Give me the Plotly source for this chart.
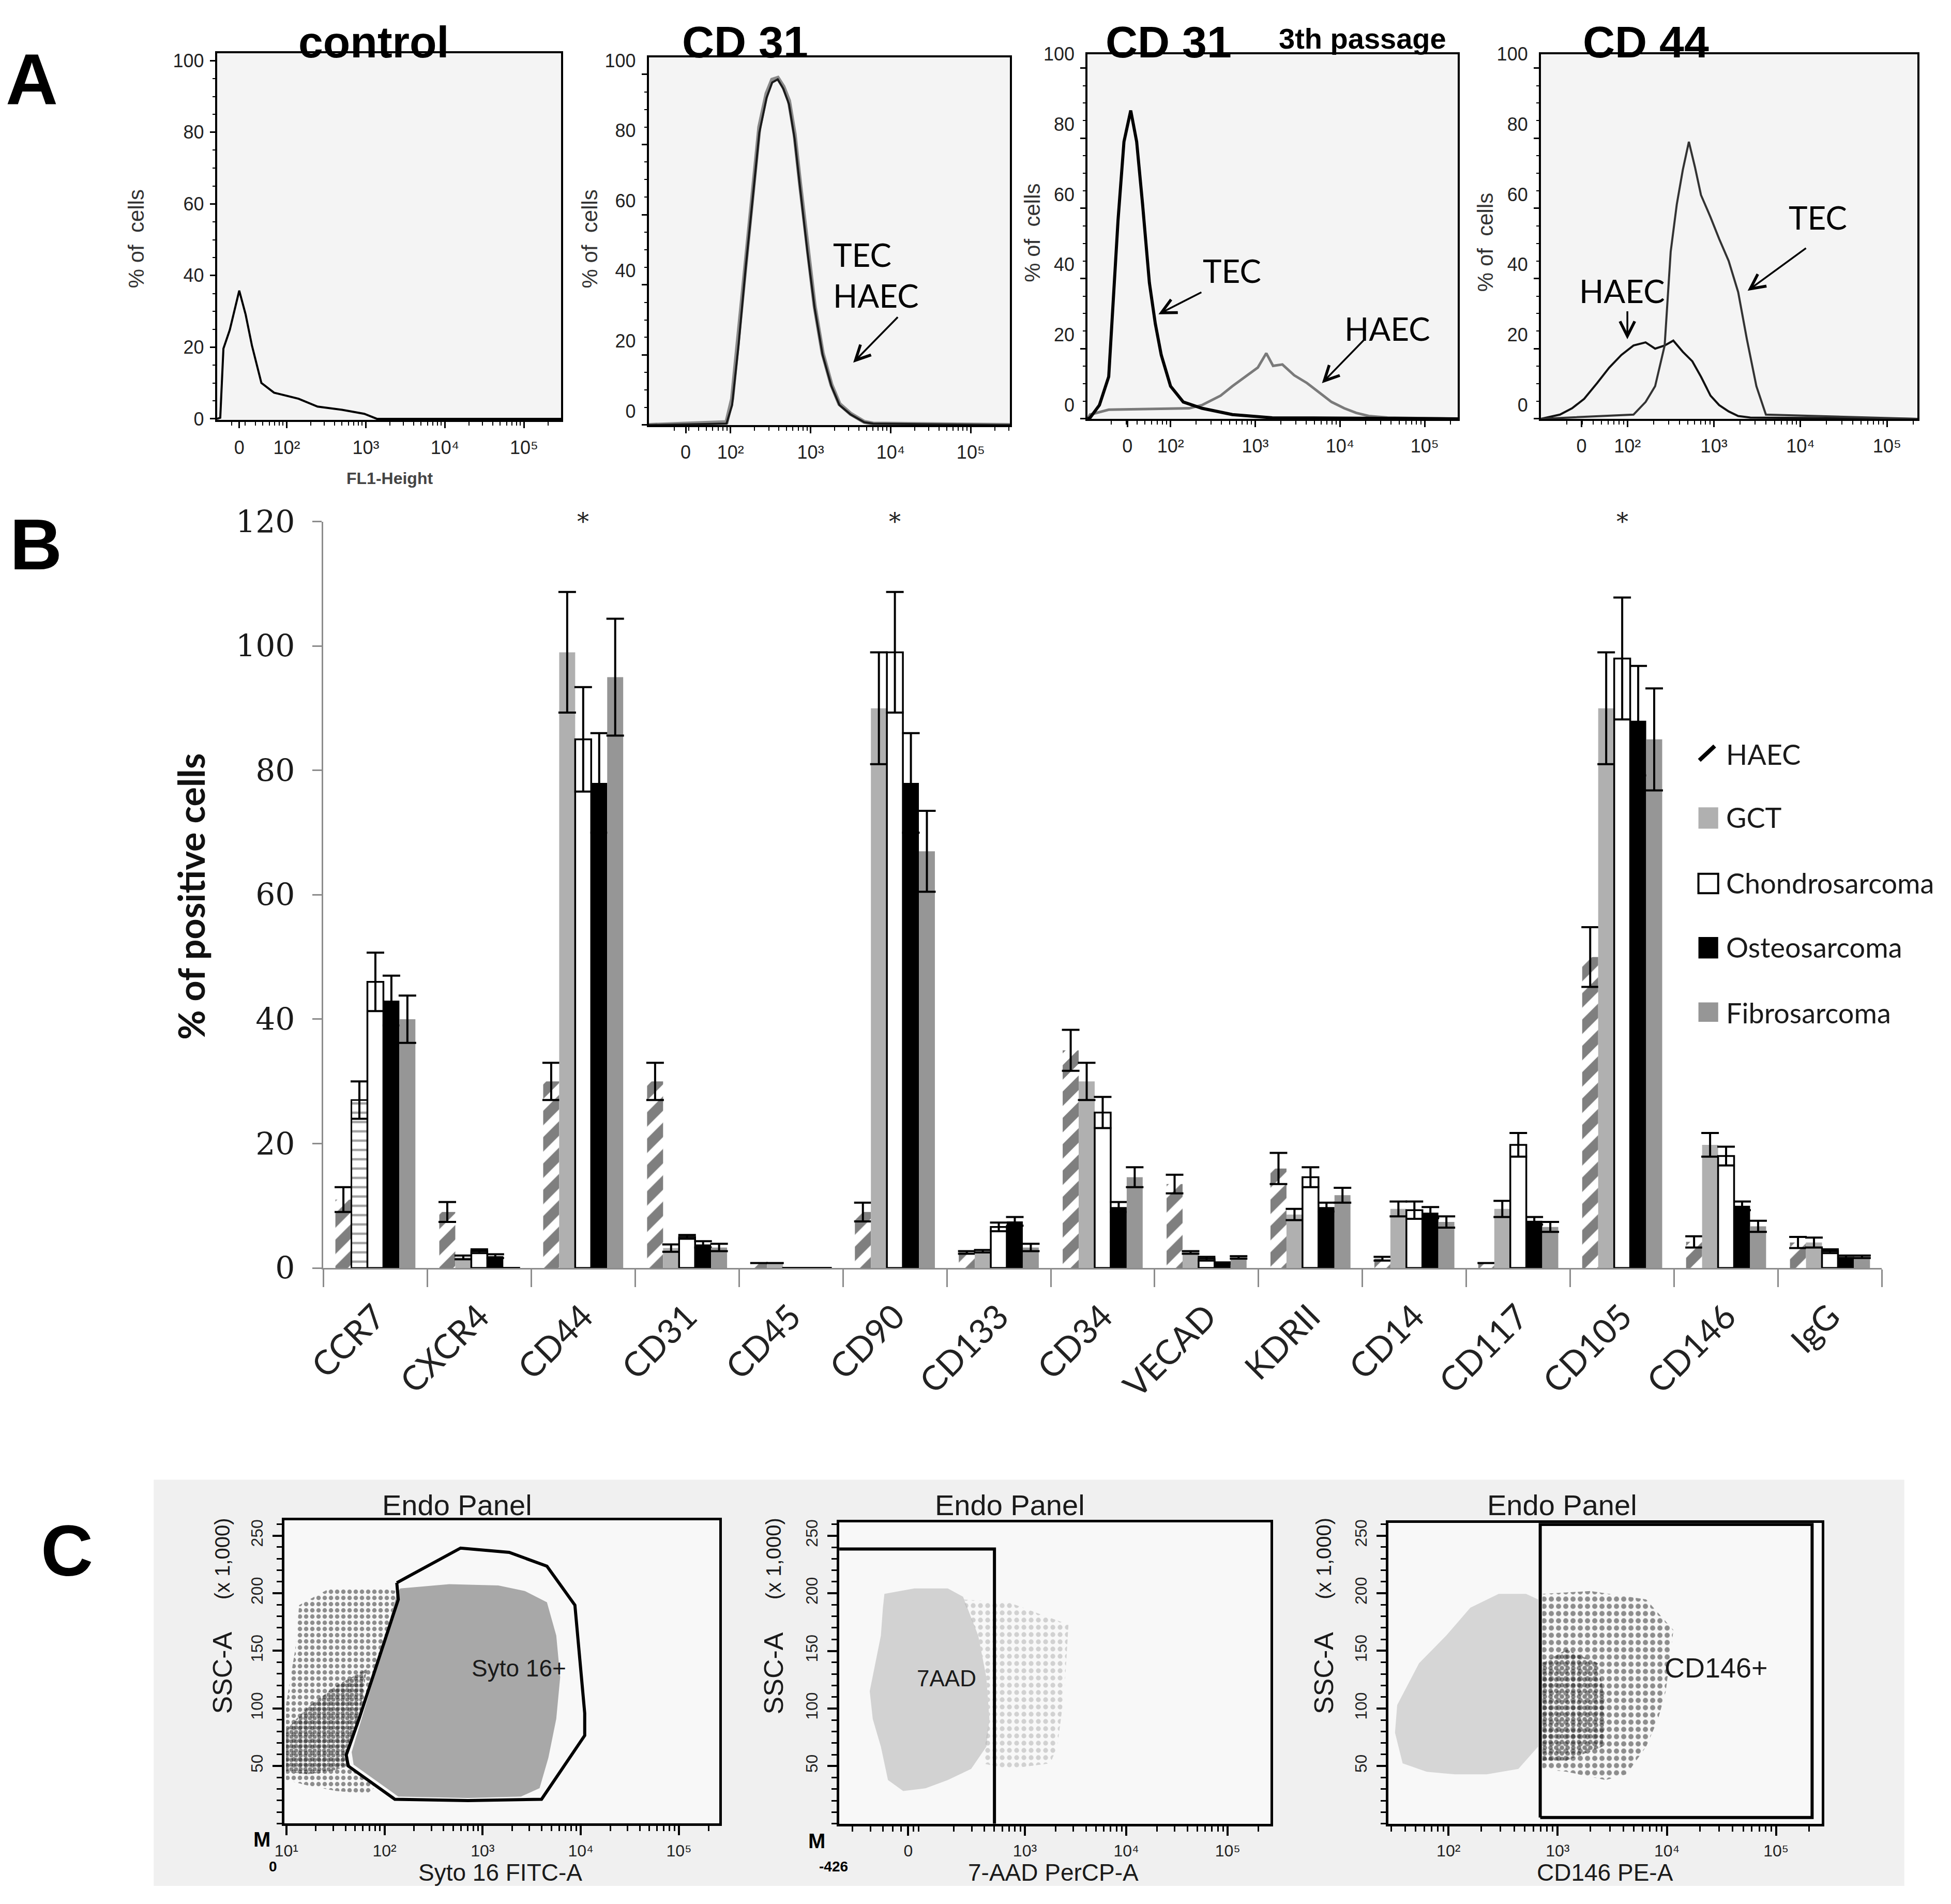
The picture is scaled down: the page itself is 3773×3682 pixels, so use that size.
import math
import plotly.graph_objects as go

W, H = 3773, 3682
MW, MH = 1568.2, 1530.3
# the page is photographed slightly inset and scaled; positions below are given in
# reference-picture pixels (1568 x 1530 view) and mapped through this correction
OX, OY, KX, KY = 12.5, 13.8, 0.991, 0.9814
S = W / MW


def fx(X):
    return ((X - OX) / KX) / MW


def fy(Y, raw=False):
    if raw:
        return 1 - Y / MH
    return 1 - ((Y - OY) / KY) / MH


def sfx(n):
    return "" if n == 1 else str(n)


ARIAL = "Liberation Sans, Arial, sans-serif"
NARROW = "Liberation Sans Narrow, Arial Narrow, Liberation Sans, sans-serif"
CAL = "Lato, Carlito, Calibri, sans-serif"
SERIF = "DejaVu Serif, serif"

# ---------------- Panel A : histograms (x in logicle decades, y in % of cells)
ctrl_u = [1.12, 1.16, 1.20, 1.28, 1.40, 1.48, 1.56, 1.68, 1.84, 2.15, 2.39, 2.70, 2.98, 3.14, 5.47]
ctrl_v = [0, 0.3, 19.6, 24.8, 35.8, 29.2, 20.5, 10.0, 7.3, 5.6, 3.4, 2.5, 1.4, 0, 0]

cd31_u = [0.98, 1.95, 2.02, 2.10, 2.19, 2.28, 2.36, 2.45, 2.52, 2.59, 2.66, 2.73, 2.80, 2.87,
          2.96, 3.05, 3.15, 3.26, 3.36, 3.50, 3.67, 3.78, 5.49]
cd31_tec = [0, 0.4, 5.7, 22.7, 45.0, 65.6, 83.4, 93.3, 97.7, 98.6, 95.9, 91.5, 81.7, 67.4,
            49.5, 33.4, 20.0, 11.1, 5.7, 3.0, 0.8, 0.4, 0]
cd31_haec = [0, 0.8, 7.5, 25.5, 48.0, 68.0, 85.0, 94.5, 98.5, 99.0, 96.5, 92.5, 83.0, 68.5,
             50.5, 34.0, 20.5, 11.5, 6.0, 3.2, 0.9, 0.4, 0]

p3_tec_u = [1.02, 1.05, 1.16, 1.27, 1.38, 1.45, 1.53, 1.60, 1.67, 1.75, 1.82, 1.89, 2.00, 2.15,
            2.37, 2.73, 3.20, 5.39]
p3_tec = [0, 0.3, 3.9, 12.0, 56.6, 79.0, 87.9, 79.0, 61.1, 38.8, 27.1, 18.2, 9.3, 4.8,
          3.0, 1.2, 0.3, 0]
p3_haec_u = [1.02, 1.05, 1.27, 2.00, 2.22, 2.37, 2.59, 2.73, 2.88, 3.03, 3.13, 3.21, 3.32, 3.46,
             3.61, 3.75, 3.90, 4.05, 4.19, 4.34, 4.56, 5.39]
p3_haec = [0, 1.2, 2.6, 3.0, 3.0, 3.9, 6.6, 9.3, 12.0, 14.6, 18.7, 15.1, 15.5, 12.4,
           10.2, 7.5, 4.8, 3.0, 1.7, 0.8, 0.35, 0]

cd44_haec_u = [1.0, 1.22, 1.36, 1.50, 1.65, 1.79, 1.93, 2.07, 2.21, 2.32, 2.43, 2.53, 2.64, 2.75,
               2.85, 2.96, 3.06, 3.17, 3.28, 3.42, 5.35]
cd44_haec = [0, 1.2, 3.0, 5.7, 10.2, 14.6, 18.2, 20.9, 21.8, 20.0, 20.9, 22.3, 19.1, 16.4,
             12.0, 6.6, 3.9, 2.1, 0.8, 0.35, 0]
cd44_tec_u = [1.0, 2.07, 2.21, 2.32, 2.43, 2.50, 2.57, 2.64, 2.71, 2.78, 2.85, 2.96, 3.06, 3.17,
              3.28, 3.38, 3.49, 3.60, 5.35]
cd44_tec = [0, 1.2, 4.8, 9.3, 20.9, 47.7, 61.1, 71.0, 79.0, 71.8, 63.8, 57.5, 51.3, 45.0,
            36.1, 22.7, 9.3, 1.2, 0]

hist_pct_ticks = [0, 20, 40, 60, 80, 100]
decade_text = ["0", "10²", "10³", "10⁴", "10⁵"]

# ---------------- Panel B : % of positive cells
categories = ["CCR7", "CXCR4", "CD44", "CD31", "CD45", "CD90", "CD133", "CD34", "VECAD",
              "KDRII", "CD14", "CD117", "CD105", "CD146", "IgG"]
haec = [11, 9, 30, 30, 0.8, 9, 2.5, 35, 13.5, 16, 1.5, 0.8, 50, 4.2, 4.1]
haec_err = [2, 1.6, 3, 3, 0, 1.5, 0.2, 3.3, 1.5, 2.5, 0.3, 0, 4.8, 0.9, 0.9]
gct = [27, 1.7, 99, 3.2, 0.8, 90, 2.7, 30, 2.5, 8.6, 9.5, 9.5, 90, 19.8, 4.1]
gct_err = [3, 0.3, 9.7, 0.6, 0, 9, 0.2, 3, 0.2, 0.9, 1.2, 1.3, 9, 1.9, 0.8]
chondro = [46, 2.7, 85, 5, 0, 99, 6.6, 25, 1.5, 14.6, 9.3, 19.8, 98, 18, 2.7]
chondro_err = [4.7, 0.3, 8.4, 0.3, 0, 9.7, 0.7, 2.5, 0.3, 1.6, 1.4, 1.9, 9.8, 1.5, 0.3]
osteo = [43, 1.9, 78, 3.8, 0, 78, 7.5, 9.8, 0.8, 9.8, 8.9, 7.6, 88, 10, 1.8]
osteo_err = [4, 0.3, 8, 0.5, 0, 8, 0.7, 0.8, 0.1, 0.7, 0.9, 0.6, 8.8, 0.7, 0.2]
fibro = [40, 0, 95, 3.3, 0, 67, 3.3, 14.6, 1.7, 11.7, 7.4, 6.6, 85, 6.7, 1.8]
fibro_err = [3.8, 0, 9.4, 0.6, 0, 6.5, 0.6, 1.6, 0.2, 1.2, 0.9, 0.8, 8.2, 0.9, 0.2]
significant = ["CD44", "CD90", "CD105"]
series_names = ["HAEC", "GCT", "Chondrosarcoma", "Osteosarcoma", "Fibrosarcoma"]

# ---------------- Panel C : dot-plot regions (x in decades, y = SSC-A x1000)
gate1_u = [2.125, 2.775, 3.27, 3.655, 3.94, 4.0, 4.04, 4.04, 3.6, 2.85, 2.105, 1.63, 1.61, 1.74, 1.93, 2.14, 2.125]
gate1_v = [209.1, 239.2, 235.5, 223.5, 189.7, 129.5, 95.8, 76.5, 21.1, 19.9, 21.1, 50, 59.6, 90.9, 139.2, 194.6, 209.1]
cloud1_u = [2.16, 2.66, 3.16, 3.43, 3.655, 3.75, 3.79, 3.75, 3.67, 3.58, 3.39, 2.85, 2.14, 1.685, 1.665, 1.80, 1.97, 2.125]
cloud1_v = [204.2, 207.9, 206.7, 201.9, 192.2, 163.3, 127.1, 90.9, 57.2, 30.7, 23.4, 22.2, 23.4, 51.2, 62, 100.5, 148.8, 199.5]
dots1_u = [0.996, 0.996, 1.09, 1.13, 1.44, 1.97, 2.125, 2.05, 1.93, 1.74, 1.61, 1.665, 1.93, 1.82, 1.51, 1.21, 0.996]
dots1_v = [37.9, 103, 151.2, 189.7, 204.2, 204.2, 201.9, 172.9, 139.2, 90.9, 59.6, 47.5, 33.2, 25.9, 28.3, 33.2, 37.9]
core1_u = [0.996, 0.996, 1.21, 1.51, 1.82, 1.74, 1.61, 1.63, 1.44, 1.21, 0.996]
core1_v = [45.1, 81.3, 100.5, 119.9, 134.3, 90.9, 59.6, 50, 45.1, 42.8, 45.1]

gate2_u = [1.17, 2.70, 2.70]
gate2_v = [238.4, 238.4, 0]
cloud2_u = [1.615, 1.91, 2.24, 2.39, 2.54, 2.62, 2.65, 2.62, 2.47, 2.24, 2.02, 1.80, 1.65, 1.58, 1.50, 1.47, 1.58, 1.60, 1.615]
cloud2_v = [199.5, 204.2, 204.2, 197, 163.3, 127.1, 90.9, 66.8, 47.5, 37.9, 30.7, 28.3, 37.9, 66.8, 90.9, 115, 163.3, 187.4, 199.5]
tail2_u = [2.39, 2.84, 3.13, 3.43, 3.39, 3.32, 3.25, 2.84, 2.58, 2.65, 2.62, 2.54, 2.39]
tail2_v = [194.6, 192.2, 182.5, 172.9, 115, 66.8, 52.4, 47.5, 52.4, 90.9, 127.1, 163.3, 194.6]

gate3_u = [2.84, 2.84, 5.33, 5.33, 2.84]
gate3_v = [5.4, 259.7, 259.7, 5.4, 5.4]
cloud3_u = [1.51, 1.53, 1.73, 1.98, 2.20, 2.46, 2.71, 2.82, 2.82, 2.64, 2.35, 2.06, 1.80, 1.58, 1.51]
cloud3_v = [78.9, 103, 139.2, 163.3, 187.4, 199.5, 199.5, 194.6, 66.8, 47.5, 42.8, 42.8, 45.1, 52.4, 78.9]
dots3_u = [2.86, 3.30, 3.81, 4.06, 3.99, 3.92, 3.81, 3.63, 3.44, 3.08, 2.86, 2.86]
dots3_v = [199.5, 201.9, 194.6, 168, 115, 90.9, 66.8, 42.8, 37.9, 45.1, 47.5, 199.5]
core3_u = [2.86, 3.08, 3.37, 3.44, 3.41, 3.08, 2.86, 2.86]
core3_v = [139.2, 151.2, 139.2, 103, 66.8, 54.8, 54.8, 139.2]

ssc_ticks = [50, 100, 150, 200, 250]

# =====================================================================
fig = go.Figure()
layout = dict(width=W, height=H, margin=dict(l=0, r=0, t=0, b=0), autosize=False,
              paper_bgcolor="white", plot_bgcolor="rgba(0,0,0,0)", showlegend=False,
              barmode="group", bargap=0.23, bargroupgap=0.0)
shapes = []
ann = []


def logminor(lo, hi):
    return [d + math.log10(k) for d in range(0, 6) for k in range(2, 10) if lo < d + math.log10(k) < hi]


def text(X, Y, s, size, family=ARIAL, color="black", xanchor="center", yanchor="middle", angle=0, raw=False):
    ann.append(dict(x=fx(X), y=fy(Y, raw), xref="paper", yref="paper", text=s, showarrow=False,
                    font=dict(family=family, size=size, color=color), xanchor=xanchor,
                    yanchor=yanchor, textangle=angle))


def top_title(X, s, size, yshift):
    ann.append(dict(x=fx(X), y=1, xref="paper", yref="paper", text=s, showarrow=False,
                    font=dict(family=ARIAL, size=size, color="black"), xanchor="center",
                    yanchor="top", yshift=yshift))


def bottom_title(X, s, size):
    ann.append(dict(x=fx(X), y=0, xref="paper", yref="paper", text=s, showarrow=False,
                    font=dict(family=ARIAL, size=size, color="#1a1a1a"), xanchor="center",
                    yanchor="bottom", yshift=-2))


def arrow(hx, hy, tx, ty):
    ann.append(dict(x=fx(hx), y=fy(hy), ax=(tx - hx) * S / KX, ay=(ty - hy) * S / KY,
                    xref="paper", yref="paper", text="", showarrow=True, arrowhead=5,
                    arrowsize=1.6, arrowwidth=3.5, arrowcolor="black"))


def bg(n, color):
    shapes.append(dict(type="rect", xref=f"x{sfx(n)} domain", yref=f"y{sfx(n)} domain",
                       x0=0, x1=1, y0=0, y1=1, fillcolor=color, line=dict(width=0), layer="below"))


# ---------------- Panel A axes
A_specs = [
    (1, (171, 448), (42, 337), [1.12, 5.47], [-0.35, 102.1], 1.40, 0),
    (2, (518.5, 809.2), (45.3, 341), [0.98, 5.49], [0, 104.9], 1.44, -27),
    (3, (871.6, 1169.6), (43, 336), [1.02, 5.39], [0, 103.9], 1.49, -27),
    (4, (1236.5, 1539.5), (43, 336), [1.0, 5.35], [0, 103.9], 1.47, -27),
]
for n, xd, yd, xr, yr, zero_u, shift in A_specs:
    s = sfx(n)
    layout[f"xaxis{s}"] = dict(domain=[fx(xd[0]), fx(xd[1])], range=xr, anchor=f"y{s}",
                               showline=True, mirror=True, linecolor="black", linewidth=4,
                               ticks="outside", ticklen=12, tickwidth=3, tickcolor="black",
                               tickvals=[zero_u, 2, 3, 4, 5], ticktext=decade_text,
                               tickfont=dict(family=NARROW, size=36, color="#222"),
                               minor=dict(tickvals=logminor(xr[0], xr[1]), ticklen=7, tickwidth=2,
                                          ticks="outside", tickcolor="black"),
                               showgrid=False, zeroline=False, ticklabelstandoff=6)
    layout[f"yaxis{s}"] = dict(domain=[fy(yd[1]), fy(yd[0])], range=yr, anchor=f"x{s}",
                               showline=True, mirror=True, linecolor="black", linewidth=4,
                               ticks="outside", ticklen=10, tickwidth=3, tickcolor="black",
                               tickvals=hist_pct_ticks,
                               tickfont=dict(family=NARROW, size=36, color="#222"),
                               minor=dict(dtick=5, ticklen=5, tickwidth=2, ticks="outside", tickcolor="black"),
                               showgrid=False, zeroline=False, ticklabelshift=shift, ticklabelstandoff=4)
    bg(n, "#f4f4f4")


def line_trace(u, v, n, color, width, dash="solid"):
    fig.add_trace(go.Scatter(x=u, y=v, mode="lines", line=dict(color=color, width=width, dash=dash),
                             xaxis=f"x{sfx(n)}", yaxis=f"y{sfx(n)}", hoverinfo="skip"))


line_trace(ctrl_u, ctrl_v, 1, "black", 4)
line_trace(cd31_u, cd31_haec, 2, "#8a8a8a", 8)
line_trace(cd31_u, cd31_tec, 2, "#1a1a1a", 4)
line_trace(p3_haec_u, p3_haec, 3, "#7a7a7a", 5)
line_trace(p3_tec_u, p3_tec, 3, "black", 6)
line_trace(cd44_haec_u, cd44_haec, 4, "#111", 4)
line_trace(cd44_tec_u, cd44_tec, 4, "#333", 4)

# Panel A texts (titles pinned to the top edge so they stay whole)
text(22, 63, "<b>A</b>", 140)
top_title(297, "<b>control</b>", 86, 4)
top_title(596, "<b>CD 31</b>", 86, 4)
top_title(937, "<b>CD 31</b>", 86, 4)
top_title(1093, "<b>3th passage</b>", 56, -6)
top_title(1321, "<b>CD 44</b>", 86, 4)
for X, Y in [(105.8, 191.4), (470.9, 191.4), (826.9, 186.4), (1191.9, 194)]:
    text(X, Y, "% of  cells", 42, color="#333", angle=-90)
text(310, 384, "<b>FL1-Height</b>", 32, family=NARROW, color="#444")
text(666.1, 204, "TEC", 62, family=CAL, xanchor="left")
text(666.1, 236.7, "HAEC", 62, family=CAL, xanchor="left")
arrow(683, 290.8, 719.1, 254.3)
text(963.5, 216.6, "TEC", 62, family=CAL, xanchor="left")
arrow(928.7, 251.9, 963.5, 234.3)
text(1077.7, 263.2, "HAEC", 62, family=CAL, xanchor="left")
arrow(1060.3, 307.3, 1095, 272)
text(1266.3, 233, "HAEC", 62, family=CAL, xanchor="left")
arrow(1306.1, 272, 1306.1, 249.4)
text(1435.2, 173.8, "TEC", 62, family=CAL, xanchor="left")
arrow(1402.9, 233, 1450, 199)

# ---------------- Panel B
layout["xaxis5"] = dict(domain=[fx(256.6), fx(1511)], anchor="y5", type="category",
                        categoryorder="array", categoryarray=categories,
                        showline=True, linecolor="#8c8c8c", linewidth=3,
                        ticks="outside", tickson="boundaries", ticklen=34, tickwidth=3, tickcolor="#8c8c8c",
                        tickangle=-45, tickfont=dict(family=CAL, size=66, color="#222"),
                        showgrid=False, zeroline=False, ticklabelstandoff=26)
layout["yaxis5"] = dict(domain=[fy(1018.8), fy(418.7)], range=[0, 120], anchor="x5",
                        showline=True, linecolor="#8c8c8c", linewidth=3,
                        ticks="outside", ticklen=18, tickwidth=3, tickcolor="#8c8c8c",
                        tickvals=[0, 20, 40, 60, 80, 100, 120],
                        tickfont=dict(family=SERIF, size=60, color="#1a1a1a"),
                        showgrid=False, zeroline=False, ticklabelstandoff=22)


def err(a):
    return dict(type="data", array=a, visible=True, color="black", thickness=4, width=17)


n_cat = len(categories)
bar_markers = [
    dict(color="white", pattern=dict(shape="/", fgcolor="black", bgcolor="white", size=36, solidity=0.55),
         line=dict(width=0)),
    dict(color=["white"] + ["#b0b0b0"] * (n_cat - 1),
         pattern=dict(shape=["-"] + [""] * (n_cat - 1), fgcolor="black", size=18, solidity=0.25),
         line=dict(color=["black"] + ["rgba(0,0,0,0)"] * (n_cat - 1), width=[3] + [0] * (n_cat - 1))),
    dict(color="white", line=dict(color="black", width=3.5)),
    dict(color="black", line=dict(width=0)),
    dict(color="#969696", line=dict(width=0)),
]
for name, vals, errs, mk in zip(series_names, [haec, gct, chondro, osteo, fibro],
                                [haec_err, gct_err, chondro_err, osteo_err, fibro_err], bar_markers):
    fig.add_trace(go.Bar(x=categories, y=vals, name=name, marker=mk, error_y=err(errs),
                         xaxis="x5", yaxis="y5", hoverinfo="skip"))

for c in significant:
    ann.append(dict(x=c, y=120, xref="x5", yref="y5", text="*", showarrow=False,
                    font=dict(family=SERIF, size=46, color="#222"), yanchor="middle"))

text(25, 437, "<b>B</b>", 140)
text(150, 720, "<b>% of positive cells</b>", 70, family=CAL, color="#111", angle=-90)

# manual legend
shapes.append(dict(type="line", xref="paper", yref="paper", x0=fx(1364), y0=fy(610.6), x1=fx(1376.4),
                   y1=fy(599.1), line=dict(color="black", width=8)))
leg_fill = [("#b0b0b0", None, 648.4, 665.6), ("white", "black", 701.8, 717.4),
            ("black", None, 752.7, 769.9), ("#969696", None, 805.3, 820.9)]
for fill, lc, y0, y1 in leg_fill:
    shapes.append(dict(type="rect", xref="paper", yref="paper", x0=fx(1363.3), x1=fx(1379.2),
                       y0=fy(y1), y1=fy(y0), fillcolor=fill,
                       line=dict(color=lc if lc else fill, width=4 if lc else 0)))
for name, Y in zip(series_names, [605.6, 656.6, 709.2, 760.9, 813.5]):
    text(1384.8, Y, name, 54, family=CAL, color="#1a1a1a", xanchor="left")

# ---------------- Panel C
shapes.insert(0, dict(type="rect", xref="paper", yref="paper", x0=fx(120), x1=fx(1529),
                      y0=0, y1=fy(1189), fillcolor="#f0f0f0", line=dict(width=0), layer="below"))
C_specs = [
    (6, (225.2, 575.1), (1221.7, 1465.5), [0.98, 5.41], [0, 263.3], [1, 2, 3, 4, 5],
     ["10¹", "10²", "10³", "10⁴", "10⁵"]),
    (7, (671.8, 1018.7), (1223.3, 1465.6), [1.17, 5.42], [0, 261.6], [1.85, 3, 4, 5],
     ["0", "10³", "10⁴", "10⁵"]),
    (8, (1113.8, 1462.7), (1223.9, 1465.6), [1.45, 5.42], [0, 260.9], [2, 3, 4, 5],
     ["10²", "10³", "10⁴", "10⁵"]),
]
for n, xd, yd, xr, yr, tv, tt in C_specs:
    layout[f"xaxis{n}"] = dict(domain=[fx(xd[0]), fx(xd[1])], range=xr, anchor=f"y{n}",
                               showline=True, mirror=True, linecolor="black", linewidth=5,
                               ticks="outside", ticklen=18, tickwidth=4, tickcolor="black",
                               tickvals=tv, ticktext=tt, tickfont=dict(family=ARIAL, size=32, color="#222"),
                               minor=dict(tickvals=logminor(xr[0], xr[1]), ticklen=10, tickwidth=3,
                                          ticks="outside", tickcolor="black"),
                               showgrid=False, zeroline=False, ticklabelstandoff=2)
    layout[f"yaxis{n}"] = dict(domain=[fy(yd[1]), fy(yd[0])], range=yr, anchor=f"x{n}",
                               showline=True, mirror=True, linecolor="black", linewidth=5,
                               ticks="outside", ticklen=18, tickwidth=4, tickcolor="black",
                               tickvals=ssc_ticks, tickangle=-90,
                               tickfont=dict(family=ARIAL, size=32, color="#222"),
                               minor=dict(dtick=10, ticklen=10, tickwidth=3, ticks="outside", tickcolor="black"),
                               showgrid=False, zeroline=False, ticklabelstandoff=6)
    bg(n, "#f8f8f8")


def region(u, v, n, fill):
    fig.add_trace(go.Scatter(x=u, y=v, mode="lines", fill="toself", fillcolor=fill,
                             line=dict(width=0, color=fill), xaxis=f"x{n}", yaxis=f"y{n}", hoverinfo="skip"))


def dots(u, v, n, color, size, solidity):
    fig.add_trace(go.Scatter(x=u, y=v, mode="lines", fill="toself", fillcolor="rgba(0,0,0,0)",
                             fillpattern=dict(shape=".", fgcolor=color, bgcolor="rgba(0,0,0,0)",
                                              size=size, solidity=solidity),
                             line=dict(width=0, color="rgba(0,0,0,0)"), xaxis=f"x{n}", yaxis=f"y{n}",
                             hoverinfo="skip"))


def gate(u, v, n, width=6):
    fig.add_trace(go.Scatter(x=u, y=v, mode="lines", line=dict(color="black", width=width),
                             xaxis=f"x{n}", yaxis=f"y{n}", hoverinfo="skip"))


region(cloud1_u, cloud1_v, 6, "#a8a8a8")
dots(dots1_u, dots1_v, 6, "#222222", 12, 0.4)
dots(core1_u, core1_v, 6, "#111111", 9, 0.6)
gate(gate1_u, gate1_v, 6)

region(cloud2_u, cloud2_v, 7, "#d2d2d2")
dots(tail2_u, tail2_v, 7, "#aaaaaa", 14, 0.35)
gate(gate2_u, gate2_v, 7)

region(cloud3_u, cloud3_v, 8, "#d6d6d6")
dots(dots3_u, dots3_v, 8, "#222222", 14, 0.4)
dots(core3_u, core3_v, 8, "#111111", 11, 0.5)
gate(gate3_u, gate3_v, 8)

for n, s, u, v, sz in [(6, "Syto 16+", 3.37, 135, 46), (7, "7AAD", 2.23, 126, 44), (8, "CD146+", 4.45, 135.5, 54)]:
    ann.append(dict(x=u, y=v, xref=f"x{n}", yref=f"y{n}", text=s, showarrow=False,
                    font=dict(family=ARIAL, size=sz, color="#1a1a1a")))

text(50, 1246, "<b>C</b>", 140)
for X in [364.2, 809.3, 1253.7]:
    text(X, 1209.5, "Endo Panel", 56, color="#1a1a1a")
for X in [175.3, 618.9, 1062]:
    text(X, 1344.5, "SSC-A", 52, color="#1a1a1a", angle=-90)
    text(X, 1252.5, "(x 1,000)", 40, color="#1a1a1a", angle=-90)
bottom_title(399, "Syto 16 FITC-A", 46)
bottom_title(844, "7-AAD PerCP-A", 46)
bottom_title(1288, "CD146 PE-A", 46)
text(207, 1478.4, "<b>M</b>", 40)
text(653.7, 1479.5, "<b>M</b>", 40)
text(216, 1500, "<b>0</b>", 28)
text(667.3, 1500, "<b>-426</b>", 28)

layout["shapes"] = shapes
layout["annotations"] = ann
fig.update_layout(**layout)
fig.write_html("out.html", config={"displayModeBar": False},
               post_script="document.body.style.margin='0px';document.body.style.padding='0px';")
